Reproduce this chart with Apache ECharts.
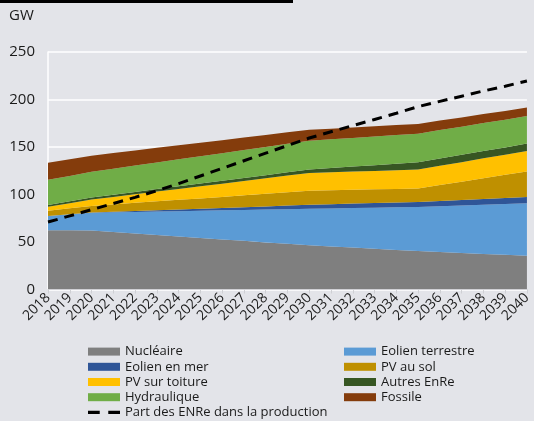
<!DOCTYPE html>
<html><head><meta charset="utf-8">
<script src="https://cdn.jsdelivr.net/npm/echarts@6/dist/echarts.min.js"></script>
<style>html,body{margin:0;padding:0;background:#e3e4e9}#c{width:534px;height:421px}</style>
</head><body><div id="c"></div>
<script>
const years = ['2018','2019','2020','2021','2022','2023','2024','2025','2026','2027','2028','2029','2030','2031','2032','2033','2034','2035','2036','2037','2038','2039','2040'];
const yTicks = [0, 50, 100, 150, 200, 250];
const nucleaire   = [62.5,62.4,62.0,60.5,58.9,57.4,55.8,54.3,52.7,51.2,49.6,48.1,46.5,45.3,44.1,42.9,41.7,40.5,39.5,38.5,37.5,36.5,35.5];
const eolienTerre = [15.0,16.9,18.9,20.8,22.8,24.7,26.7,28.6,30.6,32.5,34.5,36.4,38.4,40.0,41.6,43.2,44.8,46.4,48.2,50.0,51.8,53.6,55.4];
const eolienMer   = [0,0,0.2,0.6,1.0,1.4,1.8,2.2,2.6,3.0,3.4,3.9,4.3,4.5,4.7,4.9,5.1,5.3,5.5,5.7,6.0,6.2,6.4];
const pvSol       = [5.3,6.1,6.9,7.7,8.5,9.3,10.1,10.8,11.6,12.4,13.2,14.0,14.8,14.7,14.6,14.4,14.3,14.2,16.8,19.3,21.9,24.4,27.0];
const pvToiture   = [4.3,5.5,6.7,7.9,9.1,10.3,11.5,12.7,13.9,15.1,16.3,17.5,18.7,18.9,19.1,19.4,19.6,19.8,20.2,20.5,20.9,21.2,21.6];
const autresEnRe  = [1.8,1.9,2.1,2.2,2.4,2.6,2.7,2.9,3.0,3.2,3.3,3.5,3.6,4.4,5.3,6.1,7.0,7.8,7.8,7.8,7.8,7.7,7.7];
const hydraulique = [26.5,26.8,27.2,27.5,27.8,28.1,28.5,28.8,29.1,29.4,29.7,30.1,30.4,30.3,30.2,30.2,30.1,30.0,29.8,29.6,29.4,29.2,29.0];
const fossile     = [18.0,17.5,16.9,16.4,15.8,15.3,14.8,14.2,13.7,13.1,12.6,12.0,11.5,11.2,11.0,10.7,10.5,10.2,10.0,9.7,9.5,9.2,9.0];
const partENRe    = [71,77.5,84,90.5,97,104,111.5,119.5,127.5,135.5,143.5,151.5,159.5,166,172.5,179,185.5,192.5,198,203.5,209,214,219.5];

const FONT = 'Open Sans';
const chart = echarts.init(document.getElementById('c'), null, {renderer:'canvas'});
function area(name, data, color){
  return {name, type:'line', stack:'total', data, symbol:'none', smooth:false,
    lineStyle:{width:0, color}, itemStyle:{color}, areaStyle:{color, opacity:1}, z:2};
}
const legendText = {fontSize:13, color:'#1a1a1a', lineHeight:15.2, fontFamily:FONT};
chart.setOption({
  backgroundColor:'#e3e4e9',
  animation:false,
  textStyle:{fontFamily:FONT},
  graphic:[
    {type:'rect', shape:{x:0,y:0,width:293,height:3}, style:{fill:'#000'}},
    {type:'text', left:9, top:8, style:{text:'GW', font:'15px "Open Sans"', fill:'#1a1a1a'}}
  ],
  grid:{left:48, right:5, top:52, bottom:131.5, containLabel:false},
  xAxis:{type:'category', data:years, boundaryGap:false,
    axisLine:{show:true, lineStyle:{color:'#d0d0d4', width:1}},
    axisTick:{show:true, alignWithLabel:true, length:4, lineStyle:{color:'#cfd0d4'}},
    axisLabel:{rotate:45, fontSize:14, color:'#1a1a1a', margin:6, interval:0, fontFamily:FONT},
    splitLine:{show:false}, z:10},
  yAxis:{type:'value', min:yTicks[0], max:yTicks[yTicks.length-1], interval:50,
    axisLine:{show:true, lineStyle:{color:'#ffffff', width:1.5}},
    axisTick:{show:false},
    axisLabel:{fontSize:15, color:'#1a1a1a', margin:13, fontFamily:FONT},
    splitLine:{lineStyle:{color:'#ffffff', width:1.5}}},
  legend:[
    {orient:'vertical', left:88, top:344, padding:0, itemWidth:32, itemHeight:8, itemGap:0,
     textStyle:legendText,
     data:[{name:'Nucléaire',icon:'rect'},{name:'Eolien en mer',icon:'rect'},{name:'PV sur toiture',icon:'rect'},{name:'Hydraulique',icon:'rect'},
           {name:'Part des ENRe dans la production', icon:'path://M0,0H11V3H0ZM19,0H30V3H19Z'}]},
    {orient:'vertical', left:344, top:344, padding:0, itemWidth:32, itemHeight:8, itemGap:0,
     textStyle:legendText,
     data:[{name:'Eolien terrestre',icon:'rect'},{name:'PV au sol',icon:'rect'},{name:'Autres EnRe',icon:'rect'},{name:'Fossile',icon:'rect'}]}
  ],
  series:[
    area('Nucléaire', nucleaire, '#7f7f7f'),
    area('Eolien terrestre', eolienTerre, '#5b9bd5'),
    area('Eolien en mer', eolienMer, '#2f5597'),
    area('PV au sol', pvSol, '#bf9000'),
    area('PV sur toiture', pvToiture, '#ffc000'),
    area('Autres EnRe', autresEnRe, '#375623'),
    area('Hydraulique', hydraulique, '#70ad47'),
    area('Fossile', fossile, '#843c0c'),
    {name:'Part des ENRe dans la production', type:'line', data:partENRe, symbol:'none', showSymbol:false,
     lineStyle:{color:'#000', width:3, type:[10,7]}, itemStyle:{color:'#000'}, z:5}
  ]
});
</script></body></html>
